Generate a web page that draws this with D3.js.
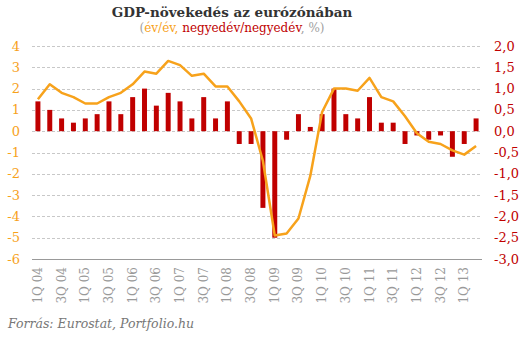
<!DOCTYPE html>
<html>
<head>
<meta charset="utf-8">
<script src="https://cdn.jsdelivr.net/npm/d3@7"></script>
<style>
  body { margin: 0; background: #fff; }
  svg { display: block; }
</style>
</head>
<body>
<svg id="svgid" width="529" height="340"></svg>
<script>
// quarters 1Q 04 .. 2Q 13
var quarters = ["1Q 04","2Q 04","3Q 04","4Q 04","1Q 05","2Q 05","3Q 05","4Q 05",
    "1Q 06","2Q 06","3Q 06","4Q 06","1Q 07","2Q 07","3Q 07","4Q 07",
    "1Q 08","2Q 08","3Q 08","4Q 08","1Q 09","2Q 09","3Q 09","4Q 09",
    "1Q 10","2Q 10","3Q 10","4Q 10","1Q 11","2Q 11","3Q 11","4Q 11",
    "1Q 12","2Q 12","3Q 12","4Q 12","1Q 13","2Q 13"];

// év/év (left axis, line)
var yoy = [1.5, 2.2, 1.8, 1.6, 1.3, 1.3, 1.6, 1.8,
    2.2, 2.8, 2.7, 3.3, 3.1, 2.6, 2.7, 2.1,
    2.1, 1.4, 0.6, -1.4, -4.9, -4.8, -4.1, -2.1,
    0.9, 2.0, 2.0, 1.9, 2.5, 1.6, 1.4, 0.7,
    -0.1, -0.5, -0.6, -0.9, -1.1, -0.7];

// negyedév/negyedév (right axis, bars)
var qoq = [0.7, 0.5, 0.3, 0.2, 0.3, 0.4, 0.7, 0.4,
    0.8, 1.0, 0.6, 0.9, 0.7, 0.3, 0.8, 0.3,
    0.7, -0.3, -0.3, -1.8, -2.5, -0.2, 0.4, 0.1,
    0.4, 1.0, 0.4, 0.3, 0.8, 0.2, 0.2, -0.3,
    -0.1, -0.2, -0.1, -0.6, -0.3, 0.3];

var leftTicks = [4, 3, 2, 1, 0, -1, -2, -3, -4, -5, -6];
var rightTicks = [2, 1.5, 1, 0.5, 0, -0.5, -1, -1.5, -2, -2.5, -3];

var orange = "#f7a21b",
    red = "#c00000",
    grey = "#a0a0a0",
    serif = "Georgia, 'DejaVu Serif', serif";

var svg = d3.select("svg"),
    x, yL, yR,
    drawTitle, drawGrid, drawBars, drawLine, drawLabels;

x = d3.scaleBand().domain(quarters).range([32, 482]).paddingInner(0.58).paddingOuter(0.29);
yL = d3.scaleLinear().domain([-6, 4]).range([259, 46]);
yR = d3.scaleLinear().domain([-3, 2]).range([259, 46]);

drawTitle = function () {
    svg.append("text")
        .attr("x", 232).attr("y", 17)
        .attr("text-anchor", "middle")
        .attr("style", "font-family:" + serif + ";font-size:13.5px;font-weight:bold;fill:#333")
        .text("GDP-növekedés az eurózónában");

    var sub = svg.append("text")
        .attr("x", 232).attr("y", 32)
        .attr("text-anchor", "middle")
        .attr("style", "font-family:" + serif + ";font-size:12px");
    sub.append("tspan").attr("fill", grey).text("(");
    sub.append("tspan").attr("fill", orange).text("év/év, ");
    sub.append("tspan").attr("fill", red).text("negyedév/negyedév");
    sub.append("tspan").attr("fill", grey).text(", %)");

    svg.append("text")
        .attr("x", 8).attr("y", 328)
        .attr("style", "font-family:" + serif + ";font-size:12.5px;font-style:italic;fill:#777")
        .text("Forrás: Eurostat, Portfolio.hu");
};

drawGrid = function () {
    svg.append("g").selectAll("line")
        .data(leftTicks.filter(function (d) { return d > -6; }))
        .enter().append("line")
        .attr("x1", 32).attr("x2", 482)
        .attr("y1", function (d) { return Math.round(yL(d)) + 0.5; })
        .attr("y2", function (d) { return Math.round(yL(d)) + 0.5; })
        .attr("style", "stroke:#c8c8c8;stroke-width:1;stroke-dasharray:3,2");

    svg.append("line")
        .attr("x1", 32).attr("x2", 482)
        .attr("y1", Math.round(yL(-6)) + 0.5).attr("y2", Math.round(yL(-6)) + 0.5)
        .attr("style", "stroke:#999;stroke-width:1");
};

drawBars = function () {
    svg.append("g").selectAll("rect")
        .data(qoq)
        .enter().append("rect")
        .attr("x", function (d, i) { return x(quarters[i]); })
        .attr("width", x.bandwidth())
        .attr("y", function (d) { return yR(Math.max(0, d)); })
        .attr("height", function (d) { return Math.abs(yR(d) - yR(0)); })
        .attr("fill", red);
};

drawLine = function () {
    var line = d3.line()
        .x(function (d, i) { return x(quarters[i]) + x.bandwidth() / 2; })
        .y(function (d) { return yL(d); });
    svg.append("path")
        .datum(yoy)
        .attr("d", line)
        .attr("style", "fill:none;stroke:" + orange + ";stroke-width:2.5;stroke-linejoin:round");
};

drawLabels = function () {
    svg.append("g").selectAll("text")
        .data(leftTicks)
        .enter().append("text")
        .attr("x", 20).attr("y", function (d) { return yL(d) + 4.5; })
        .attr("text-anchor", "end")
        .attr("style", "font-family:" + serif + ";font-size:13px;fill:" + orange)
        .text(function (d) { return d; });

    svg.append("g").selectAll("text")
        .data(rightTicks)
        .enter().append("text")
        .attr("x", 494).attr("y", function (d) { return yR(d) + 4.5; })
        .attr("style", "font-family:" + serif + ";font-size:13px;fill:" + red)
        .text(function (d) { return d3.format(".1f")(d).replace(".", ",").replace("−", "-"); });

    svg.append("g").selectAll("text")
        .data(quarters.filter(function (d, i) { return i % 2 === 0; }))
        .enter().append("text")
        .attr("transform", function (d) {
            return "translate(" + (x(d) + x.bandwidth() / 2 + 4) + ",267) rotate(-90)";
        })
        .attr("text-anchor", "end")
        .attr("style", "font-family:" + serif + ";font-size:12px;fill:#999")
        .text(function (d) { return d; });
};

drawTitle();
drawGrid();
drawBars();
drawLine();
drawLabels();
</script>
</body>
</html>
